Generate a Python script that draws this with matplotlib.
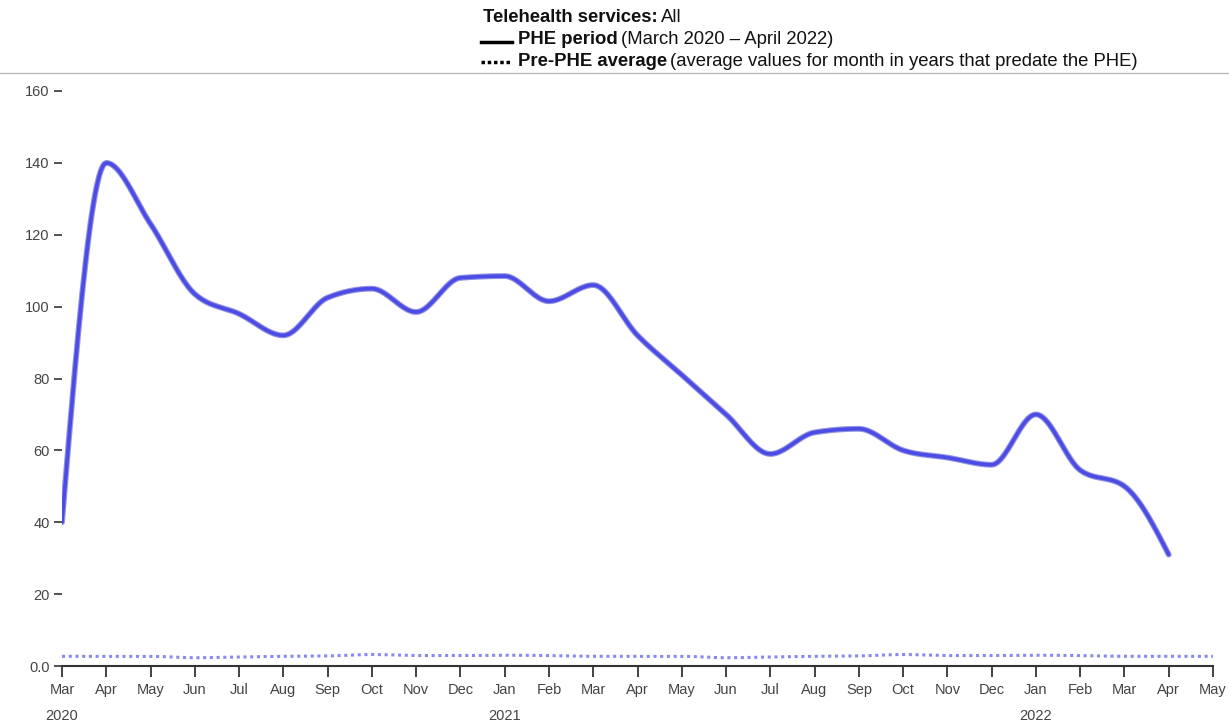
import numpy as np
import matplotlib.pyplot as plt
from matplotlib.lines import Line2D

plt.rcParams['font.family'] = ['Liberation Sans', 'DejaVu Sans']

# Month labels, Mar 2020 .. May 2022
months = ["Mar", "Apr", "May", "Jun", "Jul", "Aug", "Sep", "Oct", "Nov", "Dec",
          "Jan", "Feb", "Mar", "Apr", "May", "Jun", "Jul", "Aug", "Sep", "Oct",
          "Nov", "Dec", "Jan", "Feb", "Mar", "Apr", "May"]
years = {0: "2020", 10: "2021", 22: "2022"}

# PHE period values, Mar 2020 .. Apr 2022
phe = [40, 140, 123, 103.5, 98, 92, 102.5, 105, 98.5, 108, 108.5, 101.5, 106,
       92, 81, 70, 59, 65, 66, 60, 58, 56, 70, 54.5, 50, 31]
# Pre-PHE average, Mar 2020 .. May 2022
pre = [2.7, 2.7, 2.7, 2.3, 2.5, 2.7, 2.8, 3.2, 2.9, 2.9, 3.0, 2.9, 2.7,
       2.7, 2.7, 2.3, 2.5, 2.7, 2.8, 3.2, 2.9, 2.9, 3.0, 2.9, 2.7, 2.7, 2.7]


def smooth(y, n=24):
    # monotone cubic curve through the points (like d3 curveMonotoneX)
    y = np.asarray(y, float)
    d = np.diff(y)
    m = np.zeros_like(y)
    for i in range(1, len(y) - 1):
        if d[i - 1] * d[i] > 0:
            s = (d[i - 1] + d[i]) / 2
            m[i] = np.sign(s) * min(abs(s), 2 * min(abs(d[i - 1]), abs(d[i])))
    m[0] = (3 * d[0] - m[1]) / 2
    m[-1] = (3 * d[-1] - m[-2]) / 2
    t = np.linspace(0, 1, n, endpoint=False)
    h00 = 2 * t ** 3 - 3 * t ** 2 + 1
    h10 = t ** 3 - 2 * t ** 2 + t
    h01 = -2 * t ** 3 + 3 * t ** 2
    h11 = t ** 3 - t ** 2
    xs, ys = [], []
    for i in range(len(y) - 1):
        xs.extend(i + t)
        ys.extend(h00 * y[i] + h10 * m[i] + h01 * y[i + 1] + h11 * m[i + 1])
    xs.append(len(y) - 1)
    ys.append(y[-1])
    return np.array(xs), np.array(ys)


fig = plt.figure(figsize=(12.29, 7.22), dpi=100)
ax = fig.add_axes([62 / 1229, 1 - 666 / 722, (1213 - 62) / 1229, (666 - 91) / 722])

x1, y1 = smooth(phe)
ax.plot(x1, y1, color="#3a3ac8", lw=4.2, solid_capstyle="round", alpha=0.55)
ax.plot(x1, y1, color="#4b4be6", lw=2.6, solid_capstyle="round")
x2, y2 = smooth(pre)
ax.plot(x2, y2, color="#8888ee", lw=2.2, linestyle=(0, (1, 1.2)))

ax.set_xlim(0, len(months) - 1)
ax.set_ylim(0, 160)
ax.set_yticks(range(0, 161, 20))
ax.set_yticklabels(["0.0"] + [str(v) for v in range(20, 161, 20)])
ax.set_xticks(range(len(months)))
ax.set_xticklabels(months)

for s in ["top", "right", "left"]:
    ax.spines[s].set_visible(False)
ax.spines["bottom"].set_color("#333333")
ax.spines["bottom"].set_linewidth(1.5)
ax.tick_params(axis="y", length=6, width=1.3, color="#444444", pad=3,
               labelsize=10.5, labelcolor="#444444")
ax.tick_params(axis="x", length=8, width=1.3, color="#333333", pad=4,
               labelsize=10.5, labelcolor="#444444")

for i, yr in years.items():
    ax.text(i, -0.074, yr, transform=ax.get_xaxis_transform(), ha="center",
            va="top", fontsize=10.5, color="#444444")

# header / legend, bold part followed by regular part
renderer = fig.canvas.get_renderer()


def two_part(x, y, bold, rest, size=13.3):
    t = fig.text(x / 1229, 1 - y / 722, bold, fontsize=size, fontweight="bold",
                 va="center", color="#111111")
    bb = t.get_window_extent(renderer)
    fig.text(bb.x1 / 1229 + 3 / 1229, 1 - y / 722, rest, fontsize=size,
             va="center", color="#111111")


two_part(483, 17, "Telehealth services:", "All")
two_part(518, 40, "PHE period", "(March 2020 – April 2022)")
two_part(518, 61, "Pre-PHE average",
         "(average values for month in years that predate the PHE)")
fig.add_artist(Line2D([481 / 1229, 512 / 1229], [1 - 42 / 722] * 2, color="black", lw=2.5))
fig.add_artist(Line2D([481 / 1229, 512 / 1229], [1 - 62 / 722] * 2, color="black", lw=2.5,
                      linestyle=(0, (1, 0.8))))
fig.add_artist(Line2D([0, 1], [1 - 73 / 722] * 2, color="#bbbbbb", lw=1))

fig.savefig("out.png", dpi=100)
